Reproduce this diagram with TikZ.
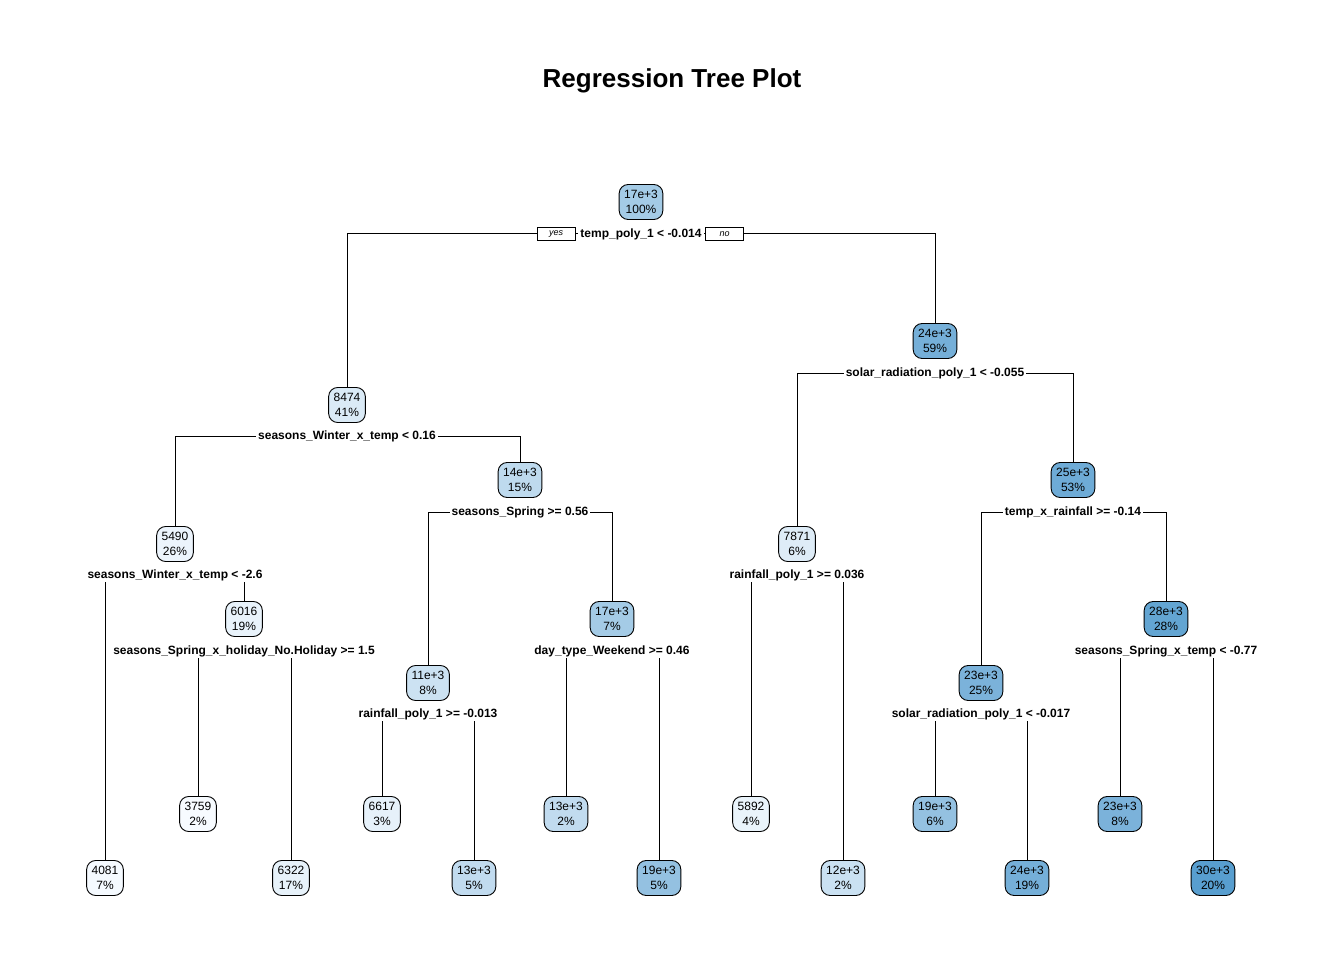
\documentclass[tikz,border=0pt]{standalone}
\usepackage{fontspec}
\setmainfont{Liberation Sans}
\definecolor{lo}{RGB}{247,251,255}
\definecolor{hi}{RGB}{88,158,207}
\pgfdeclarelayer{bg}
\pgfsetlayers{bg,main}
\tikzset{
  leaf/.style={draw, line width=0.9pt, rounded corners=9pt, align=center, inner xsep=5pt, inner ysep=2pt, minimum height=35pt, font=\fontsize{12}{15}\selectfont, fill=hi!#1!lo},
  split/.style={fill=white, inner xsep=2pt, inner ysep=1pt, font=\bfseries\fontsize{12}{14}\selectfont},
  yn/.style={draw, line width=0.8pt, fill=white, font=\itshape\fontsize{9}{10}\selectfont, minimum width=38pt, minimum height=13pt, inner sep=0pt},
  conn/.style={line width=1pt}
}
\begin{document}
\begin{tikzpicture}[x=1pt,y=-1pt]
\useasboundingbox (0,0) rectangle (1344,960);
\node[font=\bfseries\fontsize{26}{30}\selectfont] (title) at (672,81) {Regression Tree Plot};
% level 0
\node[leaf=52] (n1) at (641,202) {17e+3\\100\%};
\node[split] (s1) at (641,234) {temp\_poly\_1 < -0.014};
\node[yn] (yes) at (556,234) {yes};
\node[yn] (no) at (724.5,234) {no};
% level 1
\node[leaf=18] (n2) at (347,405) {8474\\41\%};
\node[leaf=82] (n3) at (935,341) {24e+3\\59\%};
\node[split] (s2) at (347,436) {seasons\_Winter\_x\_temp < 0.16};
\node[split] (s3) at (935,373) {solar\_radiation\_poly\_1 < -0.055};
% level 2
\node[leaf=7] (n4) at (175,544) {5490\\26\%};
\node[leaf=36] (n5) at (520,480) {14e+3\\15\%};
\node[leaf=16] (n6) at (797,544) {7871\\6\%};
\node[leaf=86] (n7) at (1073,480) {25e+3\\53\%};
\node[split] (s4) at (175,575) {seasons\_Winter\_x\_temp < -2.6};
\node[split] (s5) at (520,512) {seasons\_Spring >= 0.56};
\node[split] (s6) at (797,575) {rainfall\_poly\_1 >= 0.036};
\node[split] (s7) at (1073,512) {temp\_x\_rainfall >= -0.14};
% level 3
\node[leaf=1] (n8) at (105,878) {4081\\7\%};
\node[leaf=9] (n9) at (244,619) {6016\\19\%};
\node[leaf=27] (n10) at (428,683) {11e+3\\8\%};
\node[leaf=52] (n11) at (612,619) {17e+3\\7\%};
\node[leaf=8] (n12) at (751,814) {5892\\4\%};
\node[leaf=28] (n13) at (843,878) {12e+3\\2\%};
\node[leaf=78] (n14) at (981,683) {23e+3\\25\%};
\node[leaf=93] (n15) at (1166,619) {28e+3\\28\%};
\node[split] (s9) at (244,651) {seasons\_Spring\_x\_holiday\_No.Holiday >= 1.5};
\node[split] (s10) at (428,714) {rainfall\_poly\_1 >= -0.013};
\node[split] (s11) at (612,651) {day\_type\_Weekend >= 0.46};
\node[split] (s14) at (981,714) {solar\_radiation\_poly\_1 < -0.017};
\node[split] (s15) at (1166,651) {seasons\_Spring\_x\_temp < -0.77};
% level 4
\node[leaf=0] (n16) at (198,814) {3759\\2\%};
\node[leaf=10] (n17) at (291,878) {6322\\17\%};
\node[leaf=11] (n18) at (382,814) {6617\\3\%};
\node[leaf=34] (n19) at (474,878) {13e+3\\5\%};
\node[leaf=34] (n20) at (566,814) {13e+3\\2\%};
\node[leaf=62] (n21) at (659,878) {19e+3\\5\%};
\node[leaf=62] (n22) at (935,814) {19e+3\\6\%};
\node[leaf=82] (n23) at (1027,878) {24e+3\\19\%};
\node[leaf=78] (n24) at (1120,814) {23e+3\\8\%};
\node[leaf=100] (n25) at (1213,878) {30e+3\\20\%};
\begin{pgfonlayer}{bg}
\fill[white] (0,0) rectangle (1344,960);
\draw[conn] (s1.center) -| (n2.north);
\draw[conn] (s1.center) -| (n3.north);
\draw[conn] (s2.center) -| (n4.north);
\draw[conn] (s2.center) -| (n5.north);
\draw[conn] (s3.center) -| (n6.north);
\draw[conn] (s3.center) -| (n7.north);
\draw[conn] (s4.center) -| (n8.north);
\draw[conn] (s4.center) -| (n9.north);
\draw[conn] (s5.center) -| (n10.north);
\draw[conn] (s5.center) -| (n11.north);
\draw[conn] (s6.center) -| (n12.north);
\draw[conn] (s6.center) -| (n13.north);
\draw[conn] (s7.center) -| (n14.north);
\draw[conn] (s7.center) -| (n15.north);
\draw[conn] (s9.center) -| (n16.north);
\draw[conn] (s9.center) -| (n17.north);
\draw[conn] (s10.center) -| (n18.north);
\draw[conn] (s10.center) -| (n19.north);
\draw[conn] (s11.center) -| (n20.north);
\draw[conn] (s11.center) -| (n21.north);
\draw[conn] (s14.center) -| (n22.north);
\draw[conn] (s14.center) -| (n23.north);
\draw[conn] (s15.center) -| (n24.north);
\draw[conn] (s15.center) -| (n25.north);
\end{pgfonlayer}
\end{tikzpicture}
\end{document}
